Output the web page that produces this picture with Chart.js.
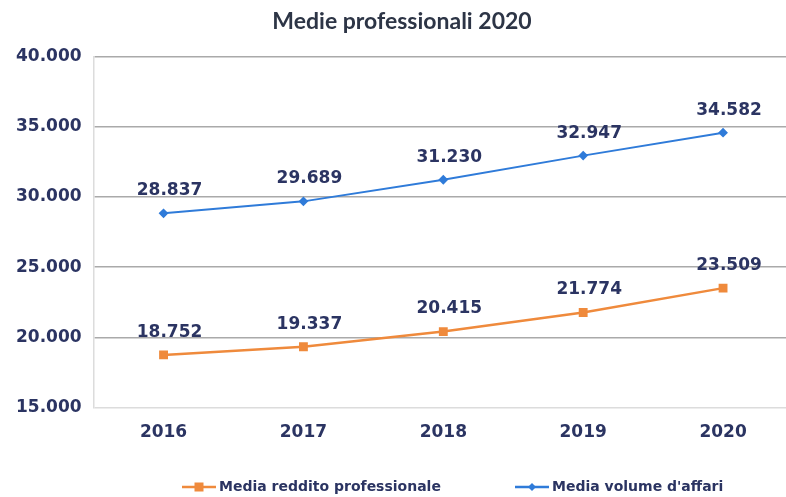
<!DOCTYPE html>
<html>
<head>
<meta charset="utf-8">
<script src="https://cdn.jsdelivr.net/npm/chart.js@4/dist/chart.umd.min.js"></script>
<style>
  html, body { margin: 0; padding: 0; background: #fff; overflow: hidden; }
  #wrap { width: 800px; height: 497px; }
</style>
</head>
<body>
<div id="wrap"><canvas id="chart" width="800" height="497"></canvas></div>
<script>
// Chart data
const years = ['2016', '2017', '2018', '2019', '2020'];
const redditoValues = [18752, 19337, 20415, 21774, 23509];
const volumeValues = [28837, 29689, 31230, 32947, 34582];
const yTicks = [15000, 20000, 25000, 30000, 35000, 40000];

const ORANGE = '#ef8a3c';
const BLUE = '#2f7bd9';
const NAVY = '#2b3462';

// Italian thousands separator
function fmt(v) {
    return String(v).replace(/\B(?=(\d{3})+(?!\d))/g, '.');
}

// Value labels above each point
const valueLabels = {
    id: 'valueLabels',
    afterDatasetsDraw(chart) {
        const ctx = chart.ctx;
        ctx.save();
        ctx.font = 'bold 17px "DejaVu Sans"';
        ctx.fillStyle = NAVY;
        ctx.textAlign = 'center';
        ctx.textBaseline = 'bottom';
        chart.data.datasets.forEach((ds, i) => {
            chart.getDatasetMeta(i).data.forEach((pt, j) => {
                ctx.fillText(fmt(ds.data[j]), pt.x + 6, pt.y - 14);
            });
        });
        ctx.restore();
    }
};

// Bottom legend: line with marker, then bold label
const lineLegend = {
    id: 'lineLegend',
    afterDraw(chart) {
        const ctx = chart.ctx;
        const y = 487;
        const starts = [182, 515];
        ctx.save();
        ctx.font = 'bold 14px "DejaVu Sans"';
        ctx.textBaseline = 'middle';
        ctx.textAlign = 'left';
        chart.data.datasets.forEach((ds, i) => {
            const x = starts[i];
            ctx.strokeStyle = ds.borderColor;
            ctx.fillStyle = ds.borderColor;
            ctx.lineWidth = 2.5;
            ctx.beginPath(); ctx.moveTo(x, y); ctx.lineTo(x + 34, y); ctx.stroke();
            const cx = x + 17;
            if (i === 0) {
                ctx.fillRect(cx - 4.5, y - 4.5, 9, 9);
            } else {
                ctx.beginPath();
                ctx.moveTo(cx, y - 4); ctx.lineTo(cx + 4, y); ctx.lineTo(cx, y + 4); ctx.lineTo(cx - 4, y);
                ctx.closePath(); ctx.fill();
            }
            ctx.fillStyle = NAVY;
            ctx.fillText(ds.label, x + 37, y);
        });
        ctx.restore();
    }
};

new Chart(document.getElementById('chart'), {
    type: 'line',
    data: {
        labels: years,
        datasets: [{
            label: 'Media reddito professionale',
            data: redditoValues,
            borderColor: ORANGE,
            backgroundColor: ORANGE,
            borderWidth: 2.5,
            pointStyle: 'rect',
            pointRadius: 4.5,
            tension: 0
        }, {
            label: "Media volume d'affari",
            data: volumeValues,
            borderColor: BLUE,
            backgroundColor: BLUE,
            borderWidth: 2,
            pointStyle: 'rectRot',
            pointRadius: 3.5,
            tension: 0
        }]
    },
    options: {
        responsive: false,
        animation: false,
        layout: { padding: { left: 4, right: 0, top: 4, bottom: 47 } },
        scales: {
            x: {
                offset: true,
                grid: { display: false },
                border: { display: false },
                ticks: {
                    color: NAVY,
                    font: { family: 'DejaVu Sans', size: 17, weight: 'bold' },
                    padding: 7
                }
            },
            y: {
                min: 15000,
                max: 40000,
                afterBuildTicks: axis => { axis.ticks = yTicks.map(v => ({ value: v })); },
                grid: {
                    color: ctx => ctx.tick && ctx.tick.value === 15000 ? '#dcdcdc' : '#aaaaaa',
                    lineWidth: 1.5,
                    drawTicks: false
                },
                border: { display: true, color: '#dcdcdc', width: 1.5 },
                ticks: {
                    color: NAVY,
                    font: { family: 'DejaVu Sans', size: 17, weight: 'bold' },
                    padding: 12,
                    callback: v => fmt(v)
                }
            }
        },
        plugins: {
            title: {
                display: true,
                text: 'Medie professionali 2020',
                color: '#2d3546',
                font: { family: 'Lato', size: 23, weight: 'bold' },
                padding: { top: 4, bottom: 21 }
            },
            legend: { display: false },
            tooltip: { enabled: false }
        }
    },
    plugins: [valueLabels, lineLegend]
});
</script>
</body>
</html>
